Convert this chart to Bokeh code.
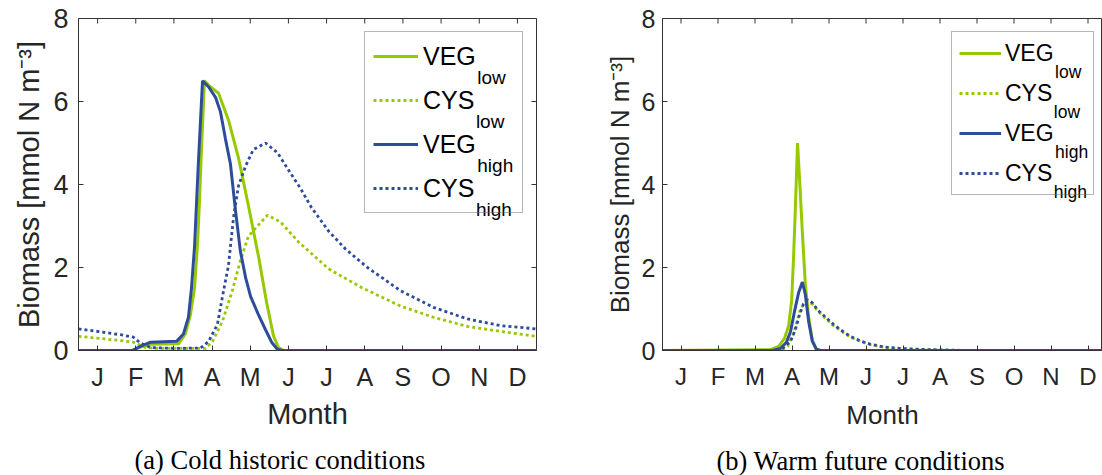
from bokeh.plotting import figure
from bokeh.models import Legend, LegendItem, Label, FixedTicker, Range1d, Title
from bokeh.layouts import row
from bokeh.embed import file_html
from bokeh.resources import INLINE

# ---------------- data (x in months since 1 Jan, y in mmol N m^-3) ----------------
month_labels = ["J", "F", "M", "A", "M", "J", "J", "A", "S", "O", "N", "D"]
month_ticks = [i + 0.5 for i in range(12)]
y_ticks = [0, 2, 4, 6, 8]
series_names = ["VEG", "CYS", "VEG", "CYS"]
series_subs = ["low", "low", "high", "high"]
captions = ["(a) Cold historic conditions", "(b) Warm future conditions"]
y_label = "Biomass [mmol N m\u207b\u00b3]"
x_label = "Month"

# (a) cold historic
cold_veg_low_x = [0, 1.41, 1.62, 1.89, 2.62, 2.80, 2.93, 3.04, 3.12, 3.17, 3.22, 3.30, 3.46, 3.67, 3.93, 4.19,
                  4.45, 4.72, 4.93, 5.11, 5.24, 5.37, 12]
cold_veg_low_y = [0, 0, 0.08, 0.15, 0.16, 0.40, 0.85, 1.5, 2.6, 3.6, 4.8, 6.5, 6.35, 6.2, 5.55, 4.65,
                  3.5, 2.25, 1.15, 0.35, 0.07, 0, 0]
cold_cys_low_x = [0, 0.58, 1.10, 1.44, 1.76, 2.15, 3.33, 3.51, 3.77, 4.03, 4.24, 4.45, 4.69, 4.95, 5.29,
                  5.76, 6.55, 7.41, 8.44, 9.30, 10.19, 11.06, 12]
cold_cys_low_y = [0.34, 0.29, 0.24, 0.20, 0.07, 0.05, 0.05, 0.22, 0.70, 1.44, 2.16, 2.75, 3.0, 3.26, 3.1,
                  2.62, 1.97, 1.52, 1.07, 0.80, 0.58, 0.46, 0.34]
cold_veg_high_x = [0, 1.41, 1.62, 1.89, 2.57, 2.75, 2.88, 2.96, 3.04, 3.09, 3.14, 3.20, 3.25, 3.41, 3.59,
                   3.72, 3.85, 3.98, 4.11, 4.24, 4.38, 4.51, 4.72, 4.90, 5.06, 5.21, 5.34, 12]
cold_veg_high_y = [0, 0, 0.10, 0.20, 0.22, 0.40, 0.80, 1.5, 2.5, 3.5, 4.5, 5.6, 6.5, 6.35, 6.1,
                   5.75, 5.1, 4.5, 3.4, 2.4, 1.75, 1.3, 0.85, 0.5, 0.2, 0.03, 0, 0]
cold_cys_high_x = [0, 0.58, 1.10, 1.44, 1.62, 1.89, 2.54, 3.20, 3.41, 3.64, 3.77, 3.93, 4.06, 4.19, 4.38,
                   4.58, 4.90, 5.21, 5.55, 5.82, 6.10, 6.55, 6.99, 7.57, 8.44, 9.30, 10.19, 11.06, 12]
cold_cys_high_y = [0.52, 0.45, 0.38, 0.32, 0.18, 0.07, 0.05, 0.06, 0.22, 0.63, 1.29, 2.05, 3.2, 3.96, 4.45,
                   4.84, 5.0, 4.77, 4.28, 3.9, 3.45, 2.88, 2.45, 2.0, 1.44, 1.04, 0.76, 0.60, 0.52]

# (b) warm future
warm_veg_low_x = [0, 2.92, 3.14, 3.30, 3.41, 3.49, 3.54, 3.59, 3.65, 3.70, 3.78, 3.86, 3.95, 4.05, 4.16, 4.27, 12]
warm_veg_low_y = [0, 0.02, 0.10, 0.30, 0.60, 1.2, 2.2, 3.4, 5.0, 4.2, 2.85, 1.6, 0.8, 0.25, 0.02, 0, 0]
warm_cys_low_x = [0, 3.19, 3.38, 3.54, 3.65, 3.73, 3.84, 3.95, 4.05, 4.19, 4.41, 4.62, 4.81, 5.08, 5.35,
                  5.62, 6.03, 6.43, 7.24, 8.05, 12]
warm_cys_low_y = [0, 0, 0.10, 0.40, 0.75, 1.0, 1.15, 1.17, 1.12, 0.96, 0.77, 0.60, 0.48, 0.32, 0.22,
                  0.14, 0.07, 0.04, 0.015, 0, 0]
warm_veg_high_x = [0, 2.97, 3.19, 3.35, 3.46, 3.57, 3.68, 3.78, 3.86, 3.95, 4.05, 4.16, 4.27, 12]
warm_veg_high_y = [0, 0, 0.05, 0.20, 0.45, 0.95, 1.4, 1.65, 1.35, 0.70, 0.22, 0.03, 0, 0]
warm_cys_high_x = [0, 3.05, 3.24, 3.46, 3.59, 3.70, 3.81, 3.92, 4.05, 4.19, 4.41, 4.62, 4.81, 5.08, 5.35,
                   5.62, 6.03, 6.43, 7.24, 8.05, 9.14, 12]
warm_cys_high_y = [0, 0, 0.05, 0.22, 0.5, 0.85, 1.12, 1.22, 1.15, 0.98, 0.80, 0.63, 0.50, 0.34, 0.23,
                   0.15, 0.08, 0.05, 0.02, 0.005, 0, 0]

# ---------------- style ----------------
GREEN = "#97C900"
BLUE = "#2E4C9C"
TEXT = "#262626"
AXIS = "#333333"
SANS = "Liberation Sans"
SERIF = "Liberation Serif"

ARIAL_W = {'V': .667, 'E': .667, 'G': .778, 'C': .722, 'Y': .667, 'S': .667}


def tw(s, size):
    return sum(ARIAL_W.get(c, 0.556) for c in s) * size


def make_panel(cfg, series, caption):
    W, H = cfg["width"], cfg["height"]
    fl, ft, fr, fb = cfg["frame"]
    x1 = cfg["x_end"]
    p = figure(width=W, height=H, x_range=Range1d(0, x1), y_range=Range1d(0, 8),
               output_backend="svg", toolbar_location=None,
               min_border_left=fl, min_border_right=W - fr, min_border_top=ft, min_border_bottom=H - fb)
    p.outline_line_color = AXIS
    p.outline_line_width = 1
    p.grid.visible = False
    p.background_fill_color = "white"
    p.border_fill_color = "white"

    sx = (fr - fl) / x1
    sy = (fb - ft) / 8.0

    def dx(px):
        return (px - fl) / sx

    def dy(py):
        return (fb - py) / sy

    styles = [(GREEN, None), (GREEN, "3 3"), (BLUE, None), (BLUE, "3 3")]
    rends = []
    for (xs, ys), (col, dash) in zip(series, styles):
        if dash is None:
            r = p.line(xs, ys, line_color=col, line_width=3)
        else:
            r = p.line(xs, ys, line_color=col, line_width=2.8, line_dash=dash)
        rends.append(r)

    # inward ticks on the top (and right) edges of the box
    tick_len = 5.0
    p.segment(x0=month_ticks, y0=[8] * len(month_ticks), x1=month_ticks,
              y1=[8 - tick_len / sy] * len(month_ticks), line_color=AXIS, line_width=1)
    if cfg["right_ticks"]:
        p.segment(x0=[x1] * len(y_ticks), y0=y_ticks, x1=[x1 - tick_len / sx] * len(y_ticks), y1=y_ticks,
                  line_color=AXIS, line_width=1)

    def style_axis(ax, fsize, standoff):
        ax.axis_line_color = AXIS
        ax.major_tick_line_color = AXIS
        ax.major_tick_in = 5
        ax.major_tick_out = 0
        ax.minor_tick_in = 0
        ax.minor_tick_out = 0
        ax.major_label_text_font = SANS
        ax.major_label_text_color = TEXT
        ax.major_label_text_font_size = fsize
        ax.major_label_standoff = standoff
        ax.axis_label_text_font = SANS
        ax.axis_label_text_font_style = "normal"
        ax.axis_label_text_color = TEXT
        ax.axis_label_text_font_size = cfg["label_font"]

    xa = p.xaxis[0]
    xa.ticker = FixedTicker(ticks=month_ticks)
    xa.major_label_overrides = {t: m for t, m in zip(month_ticks, month_labels)}
    style_axis(xa, cfg["xtick_font"], cfg["xtick_standoff"])
    xa.axis_label = x_label
    xa.axis_label_standoff = cfg["xlabel_standoff"]

    ya = p.yaxis[0]
    ya.ticker = FixedTicker(ticks=y_ticks)
    style_axis(ya, cfg["ytick_font"], cfg["ytick_standoff"])
    ya.axis_label = y_label
    ya.axis_label_standoff = cfg["ylabel_standoff"]

    # legend (base names from the Legend, subscripts as labels)
    lg = cfg["legend"]
    items = [LegendItem(label=n, renderers=[r]) for n, r in zip(series_names, rends)]
    leg_h = 2 * lg["pad"] + 4 * lg["gh"] + 3 * lg["spacing"]
    loc = (lg["left"] - fl, fb - lg["top"] - leg_h)
    leg = Legend(items=items, location=loc, padding=lg["pad"], spacing=lg["spacing"],
                 glyph_width=lg["gw"], glyph_height=lg["gh"], label_height=lg["gh"],
                 label_width=lg["lw"], label_standoff=lg["standoff"], margin=0,
                 label_text_font=SANS, label_text_font_size=f"{lg['font']}px",
                 label_text_color="black", label_text_baseline="middle",
                 border_line_color="#6e6e6e", border_line_width=1,
                 background_fill_alpha=0.0)
    p.add_layout(leg)
    text_x0 = lg["left"] + lg["pad"] + lg["gw"] + lg["standoff"]
    for i, (n, s) in enumerate(zip(series_names, series_subs)):
        cy = lg["top"] + lg["pad"] + lg["gh"] / 2 + i * (lg["gh"] + lg["spacing"])
        p.add_layout(Label(x=dx(text_x0 + tw(n, lg["font"]) + 2), y=dy(cy + lg["sub_dy"]), text=s,
                           text_font=SANS, text_font_size=f"{lg['sub_font']}px", text_color="black",
                           text_align="left", text_baseline="alphabetic"))

    # caption below the axis
    cap = Title(text=caption, align="left", offset=cfg["cap_offset"], text_font=SERIF,
                text_font_size=cfg["cap_font"], text_font_style="normal", text_color="black",
                standoff=0)
    try:
        cap.padding = dict(left=0, right=0, top=cfg["cap_pad"], bottom=0)
    except Exception:
        cap.standoff = 12
    p.add_layout(cap, "below")
    return p


FRAME_TOP, FRAME_BOTTOM = 18, 350

cfg_a = dict(width=600, height=475, frame=(78, FRAME_TOP, 536, FRAME_BOTTOM), x_end=12, right_ticks=True,
             xtick_font="25px", xtick_standoff=12, ytick_font="27px", ytick_standoff=10,
             label_font="29px", xlabel_standoff=4, ylabel_standoff=5,
             legend=dict(left=364, top=33, pad=8, spacing=12, gw=45, gh=32, lw=91,
                         standoff=5, font=25, sub_font=19, sub_dy=20),
             cap_offset=56, cap_font="26.5px", cap_pad=10)
cfg_b = dict(width=502, height=475, frame=(62, FRAME_TOP, 502, FRAME_BOTTOM), x_end=440 / 37.0,
             right_ticks=False,
             xtick_font="24px", xtick_standoff=12, ytick_font="25px", ytick_standoff=7,
             label_font="26px", xlabel_standoff=7, ylabel_standoff=4,
             legend=dict(left=351, top=33, pad=7, spacing=12, gw=42, gh=28, lw=81,
                         standoff=4, font=23, sub_font=17.5, sub_dy=17),
             cap_offset=54, cap_font="26.5px", cap_pad=11)

pa = make_panel(cfg_a, [(cold_veg_low_x, cold_veg_low_y), (cold_cys_low_x, cold_cys_low_y),
                        (cold_veg_high_x, cold_veg_high_y), (cold_cys_high_x, cold_cys_high_y)], captions[0])
pb = make_panel(cfg_b, [(warm_veg_low_x, warm_veg_low_y), (warm_cys_low_x, warm_cys_low_y),
                        (warm_veg_high_x, warm_veg_high_y), (warm_cys_high_x, warm_cys_high_y)], captions[1])

layout = row(pa, pb, spacing=0)
open("out.html", "w").write(file_html(layout, INLINE))
